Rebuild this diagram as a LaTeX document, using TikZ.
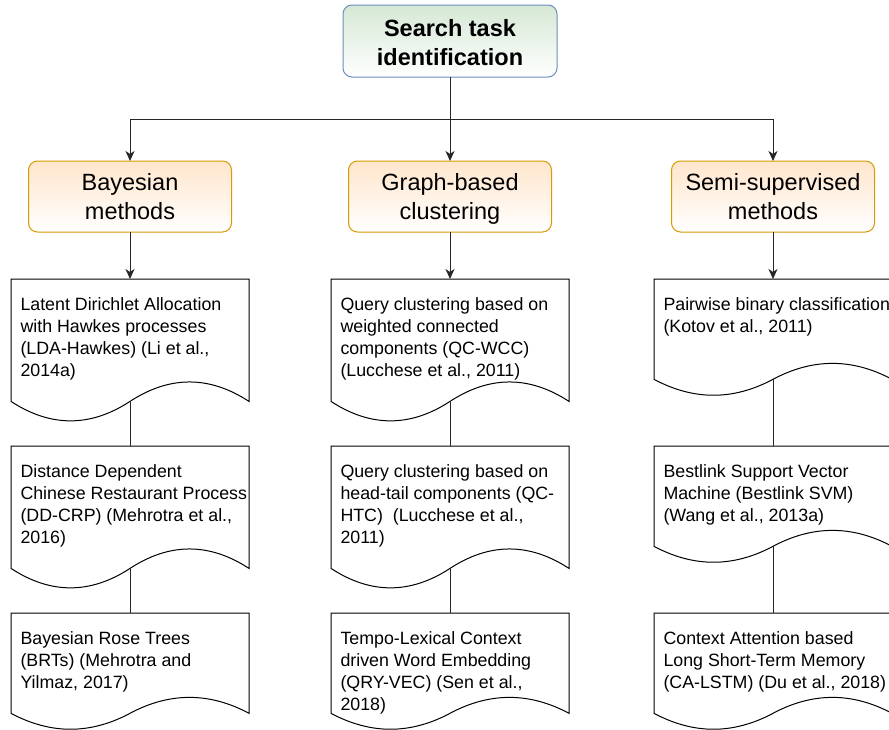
\documentclass[tikz,border=0pt]{standalone}
\usepackage{fontspec}
\setmainfont{Liberation Sans}
\usetikzlibrary{arrows.meta}

\definecolor{taskfill}{HTML}{D5E8D4}
\definecolor{taskline}{HTML}{6C8EBF}
\definecolor{catfill}{HTML}{FFE6CC}
\definecolor{catline}{HTML}{D79B00}

% line struts: fixed ascent/descent so every line box has the same height
\newcommand\catstrut{\rule[-6.4pt]{0pt}{29pt}}
\newcommand\titlestrut{\rule[-4.4pt]{0pt}{29pt}}
\newcommand\docstrut{\rule[-4.8pt]{0pt}{22pt}}

% document shape with a wavy bottom edge: name, left, top, width, height
\newcommand\docshape[5]{%
  \node[docframe, minimum width=#4pt, minimum height=#5pt, anchor=north west] (#1) at (#2,#3) {};
  \draw[docline] (#2,#3) -- ({#2+#4},#3) -- ({#2+#4},{#3+0.85*#5})
    .. controls ({#2+5*#4/6},{#3+0.67*#5}) and ({#2+2*#4/3},{#3+0.67*#5}) .. ({#2+#4/2},{#3+0.85*#5})
    coordinate (#1-wave)
    .. controls ({#2+#4/3},{#3+1.03*#5}) and ({#2+#4/6},{#3+1.03*#5}) .. (#2,{#3+0.85*#5}) -- cycle;
}
% left-aligned label inside a document shape: name, left, top, text
\newcommand\doclabel[4]{%
  \node[doctext, anchor=north west] (#1) at ({#2+9.5},{#3+14.5}) {#4};
}

\begin{document}
\begin{tikzpicture}[x=1pt, y=-1pt,
  every node/.style={inner sep=0pt, outer sep=0pt},
  taskbox/.style={draw=taskline, line width=1pt, rounded corners=9pt,
    top color=taskfill, bottom color=white,
    minimum width=214pt, minimum height=72pt, align=center,
    font=\fontsize{23.5}{29}\selectfont\bfseries},
  catbox/.style={draw=catline, line width=1pt, rounded corners=9pt,
    top color=catfill, bottom color=white,
    minimum width=203pt, minimum height=71pt, align=center,
    font=\fontsize{23.5}{29}\selectfont},
  docframe/.style={rectangle},
  docline/.style={draw=black, line width=1pt, fill=white},
  doctext/.style={align=left, font=\fontsize{17.8}{22}\selectfont},
  link/.style={draw=black!85, line width=1pt},
  arrowed/.style={link, -{Stealth[length=10pt,width=9pt,inset=3pt]}},
]
\useasboundingbox (0,0) rectangle (889,729);
\fill[white] (0,0) rectangle (889,729);
\clip (0,0) rectangle (889,729);

% root
\node[taskbox] (task) at (450,41) {\titlestrut Search task\\\titlestrut identification};

% categories
\node[catbox] (bay)   at (130,196.5) {\catstrut Bayesian\\\catstrut methods};
\node[catbox] (graph) at (450,196.5) {\catstrut Graph-based\\\catstrut clustering};
\node[catbox] (semi)  at (773,196.5) {\catstrut Semi-supervised\\\catstrut methods};

% root to categories
\coordinate (bus) at (450,119);
\draw[arrowed] (task.south) -- (task.south |- bus) -| (bay.north);
\draw[arrowed] (task.south) -- (graph.north);
\draw[arrowed] (task.south) -- (task.south |- bus) -| (semi.north);

% Bayesian methods
\docshape{b1}{11}{279}{238}{144}
\doclabel{b1t}{11}{279}{\docstrut Latent Dirichlet Allocation\\\docstrut with Hawkes processes\\\docstrut (LDA-Hawkes) (Li et al.,\\\docstrut 2014a)}
\docshape{b2}{11}{446}{238}{144}
\doclabel{b2t}{11}{446}{\docstrut Distance Dependent\\\docstrut Chinese Restaurant Process\\\docstrut (DD-CRP) (Mehrotra et al.,\\\docstrut 2016)}
\docshape{b3}{11}{613}{238}{118}
\doclabel{b3t}{11}{613}{\docstrut Bayesian Rose Trees\\\docstrut (BRTs) (Mehrotra and\\\docstrut Yilmaz, 2017)}

% Graph-based clustering
\docshape{g1}{331}{279}{238}{144}
\doclabel{g1t}{331}{279}{\docstrut Query clustering based on\\\docstrut weighted connected\\\docstrut components (QC-WCC)\\\docstrut (Lucchese et al., 2011)}
\docshape{g2}{331}{446}{238}{144}
\doclabel{g2t}{331}{446}{\docstrut Query clustering based on\\\docstrut head-tail components (QC-\\\docstrut HTC)\ \ (Lucchese et al.,\\\docstrut 2011)}
\docshape{g3}{331}{613}{238}{118}
\doclabel{g3t}{331}{613}{\docstrut Tempo-Lexical Context\\\docstrut driven Word Embedding\\\docstrut (QRY-VEC) (Sen et al.,\\\docstrut 2018)}

% Semi-supervised methods
\docshape{s1}{654}{279}{238}{118}
\doclabel{s1t}{654}{279}{\docstrut Pairwise binary classification\\\docstrut (Kotov et al., 2011)}
\docshape{s2}{654}{446}{238}{118}
\doclabel{s2t}{654}{446}{\docstrut Bestlink Support Vector\\\docstrut Machine (Bestlink SVM)\\\docstrut (Wang et al., 2013a)}
\docshape{s3}{654}{613}{238}{118}
\doclabel{s3t}{654}{613}{\docstrut Context Attention based\\\docstrut Long Short-Term Memory\\\docstrut (CA-LSTM) (Du et al., 2018)}

% categories to first methods
\draw[arrowed] (bay.south) -- (b1.north);
\draw[arrowed] (graph.south) -- (g1.north);
\draw[arrowed] (semi.south) -- (s1.north);

% chains of methods
\draw[link] (b1-wave) -- (b2.north);
\draw[link] (b2-wave) -- (b3.north);
\draw[link] (g1-wave) -- (g2.north);
\draw[link] (g2-wave) -- (g3.north);
\draw[link] (s1-wave) -- (s2.north);
\draw[link] (s2-wave) -- (s3.north);
\end{tikzpicture}
\end{document}
